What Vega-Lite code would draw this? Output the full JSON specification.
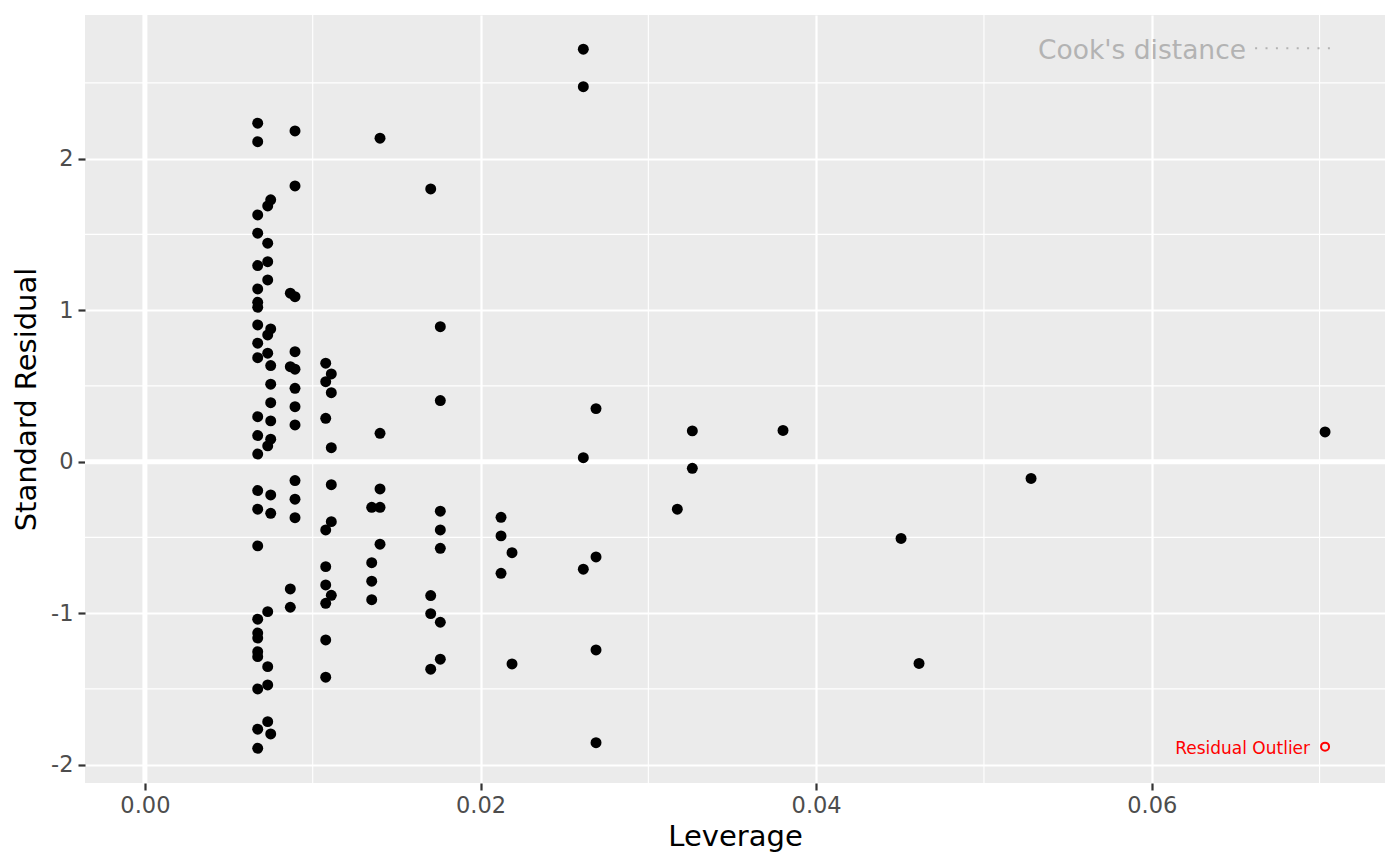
{
  "$schema": "https://vega.github.io/schema/vega-lite/v6.json",
  "autosize": {"type": "none"},
  "width": 1300,
  "height": 768,
  "padding": {"left": 85, "top": 15, "right": 15, "bottom": 83},
  "background": "white",
  "config": {
    "font": "DejaVu Sans",
    "view": {"fill": "#EBEBEB", "stroke": null},
    "axis": {
      "domain": false,
      "grid": true,
      "gridColor": "white",
      "gridWidth": 2.2,
      "tickColor": "#333333",
      "tickSize": 7,
      "tickWidth": 2.2,
      "labelFont": "DejaVu Sans",
      "labelFontSize": 22.5,
      "labelColor": "#4D4D4D",
      "titleFont": "DejaVu Sans",
      "titleFontSize": 29,
      "titleFontWeight": "normal",
      "titleColor": "black"
    }
  },
  "datasets": {
    "pts": [
      {"lev": 0.006722, "res": 2.234}, {"lev": 0.006722, "res": 2.112}, {"lev": 0.006722, "res": 1.628}, {"lev": 0.006722, "res": 1.508}, {"lev": 0.006722, "res": 1.294},
      {"lev": 0.006722, "res": 1.140}, {"lev": 0.006722, "res": 1.052}, {"lev": 0.006722, "res": 1.019}, {"lev": 0.006722, "res": 0.902}, {"lev": 0.006722, "res": 0.782},
      {"lev": 0.006722, "res": 0.686}, {"lev": 0.006722, "res": 0.297}, {"lev": 0.006722, "res": 0.172}, {"lev": 0.006722, "res": 0.050}, {"lev": 0.006722, "res": -0.191},
      {"lev": 0.006722, "res": -0.314}, {"lev": 0.006722, "res": -0.556}, {"lev": 0.006722, "res": -1.040}, {"lev": 0.006722, "res": -1.131}, {"lev": 0.006722, "res": -1.164},
      {"lev": 0.006722, "res": -1.254}, {"lev": 0.006722, "res": -1.287}, {"lev": 0.006722, "res": -1.500}, {"lev": 0.006722, "res": -1.766}, {"lev": 0.006722, "res": -1.892},
      {"lev": 0.007318, "res": 1.688}, {"lev": 0.007318, "res": 1.442}, {"lev": 0.007318, "res": 1.320}, {"lev": 0.007318, "res": 1.199}, {"lev": 0.007318, "res": 0.836},
      {"lev": 0.007318, "res": 0.716}, {"lev": 0.007318, "res": 0.104}, {"lev": 0.007318, "res": -0.990}, {"lev": 0.007318, "res": -1.353}, {"lev": 0.007318, "res": -1.474},
      {"lev": 0.007318, "res": -1.716},
      {"lev": 0.007497, "res": 1.728}, {"lev": 0.007497, "res": 0.876}, {"lev": 0.007497, "res": 0.634}, {"lev": 0.007497, "res": 0.511}, {"lev": 0.007497, "res": 0.389},
      {"lev": 0.007497, "res": 0.269}, {"lev": 0.007497, "res": 0.148}, {"lev": 0.007497, "res": -0.220}, {"lev": 0.007497, "res": -0.341}, {"lev": 0.007497, "res": -1.797},
      {"lev": 0.008665, "res": 1.112}, {"lev": 0.008665, "res": 0.627}, {"lev": 0.008665, "res": -0.840}, {"lev": 0.008665, "res": -0.961},
      {"lev": 0.008945, "res": 2.183}, {"lev": 0.008945, "res": 1.820}, {"lev": 0.008945, "res": 1.089}, {"lev": 0.008945, "res": 0.726}, {"lev": 0.008945, "res": 0.610},
      {"lev": 0.008945, "res": 0.484}, {"lev": 0.008945, "res": 0.363}, {"lev": 0.008945, "res": 0.242}, {"lev": 0.008945, "res": -0.125}, {"lev": 0.008945, "res": -0.248},
      {"lev": 0.008945, "res": -0.370},
      {"lev": 0.010775, "res": 0.650}, {"lev": 0.010775, "res": 0.528}, {"lev": 0.010775, "res": 0.286}, {"lev": 0.010775, "res": -0.451}, {"lev": 0.010775, "res": -0.693},
      {"lev": 0.010775, "res": -0.814}, {"lev": 0.010775, "res": -0.935}, {"lev": 0.010775, "res": -1.177}, {"lev": 0.010775, "res": -1.423},
      {"lev": 0.011108, "res": 0.579}, {"lev": 0.011108, "res": 0.455}, {"lev": 0.011108, "res": 0.092}, {"lev": 0.011108, "res": -0.152}, {"lev": 0.011108, "res": -0.396},
      {"lev": 0.011108, "res": -0.882},
      {"lev": 0.013516, "res": -0.301}, {"lev": 0.013516, "res": -0.667}, {"lev": 0.013516, "res": -0.789}, {"lev": 0.013516, "res": -0.911},
      {"lev": 0.014011, "res": 2.135}, {"lev": 0.014011, "res": 0.187}, {"lev": 0.014011, "res": -0.180}, {"lev": 0.014011, "res": -0.301}, {"lev": 0.014011, "res": -0.545},
      {"lev": 0.017032, "res": 1.800}, {"lev": 0.017032, "res": -0.884}, {"lev": 0.017032, "res": -1.003}, {"lev": 0.017032, "res": -1.370},
      {"lev": 0.017604, "res": 0.891}, {"lev": 0.017604, "res": 0.403}, {"lev": 0.017604, "res": -0.327}, {"lev": 0.017604, "res": -0.451}, {"lev": 0.017604, "res": -0.572},
      {"lev": 0.017604, "res": -1.060}, {"lev": 0.017604, "res": -1.304},
      {"lev": 0.021222, "res": -0.367}, {"lev": 0.021222, "res": -0.490}, {"lev": 0.021222, "res": -0.737},
      {"lev": 0.021877, "res": -0.601}, {"lev": 0.021877, "res": -1.335},
      {"lev": 0.026126, "res": 2.722}, {"lev": 0.026126, "res": 2.475}, {"lev": 0.026126, "res": 0.026}, {"lev": 0.026126, "res": -0.710},
      {"lev": 0.026883, "res": 0.350}, {"lev": 0.026883, "res": -0.629}, {"lev": 0.026883, "res": -1.243}, {"lev": 0.026883, "res": -1.855},
      {"lev": 0.031728, "res": -0.314},
      {"lev": 0.032622, "res": 0.203}, {"lev": 0.032622, "res": -0.044},
      {"lev": 0.038027, "res": 0.206},
      {"lev": 0.045060, "res": -0.507},
      {"lev": 0.046132, "res": -1.332},
      {"lev": 0.052807, "res": -0.111},
      {"lev": 0.070328, "res": 0.196}
    ],
    "minorx": [{"lev": 0.01}, {"lev": 0.03}, {"lev": 0.05}, {"lev": 0.07}],
    "minory": [{"res": -1.5}, {"res": -0.5}, {"res": 0.5}, {"res": 1.5}, {"res": 2.5}],
    "zerox": [{"lev": 0}],
    "zeroy": [{"res": 0}],
    "outlier": [{"lev": 0.070328, "res": -1.881, "label": "Residual Outlier"}],
    "cook": [{"lev": 0.06562, "res": 2.656, "label": "Cook's distance"}],
    "cookline": [{"lev": 0.06616, "lev2": 0.07078, "res": 2.728}]
  },
  "layer": [
    {
      "data": {"name": "minorx"},
      "mark": {"type": "rule", "color": "white", "strokeWidth": 1.1},
      "encoding": {
        "x": {"field": "lev", "type": "quantitative", "scale": {"domain": [-0.00357, 0.0739], "nice": false, "zero": false},
              "axis": {"title": "Leverage", "values": [0, 0.02, 0.04, 0.06], "format": ".2f", "labelPadding": 4, "titlePadding": 6}}
      }
    },
    {
      "data": {"name": "minory"},
      "mark": {"type": "rule", "color": "white", "strokeWidth": 1.1},
      "encoding": {
        "y": {"field": "res", "type": "quantitative", "scale": {"domain": [-2.121, 2.948], "nice": false, "zero": false},
              "axis": {"title": "Standard Residual", "values": [-2, -1, 0, 1, 2], "labelExpr": "'' + datum.value", "labelPadding": 5, "titlePadding": 9}}
      }
    },
    {
      "data": {"name": "zerox"},
      "mark": {"type": "rule", "color": "white", "strokeWidth": 5},
      "encoding": {
        "x": {"field": "lev", "type": "quantitative", "scale": {"domain": [-0.00357, 0.0739], "nice": false, "zero": false},
              "axis": {"title": "Leverage", "values": [0, 0.02, 0.04, 0.06], "format": ".2f", "labelPadding": 4, "titlePadding": 6}}
      }
    },
    {
      "data": {"name": "zeroy"},
      "mark": {"type": "rule", "color": "white", "strokeWidth": 5},
      "encoding": {
        "y": {"field": "res", "type": "quantitative", "scale": {"domain": [-2.121, 2.948], "nice": false, "zero": false},
              "axis": {"title": "Standard Residual", "values": [-2, -1, 0, 1, 2], "labelExpr": "'' + datum.value", "labelPadding": 5, "titlePadding": 9}}
      }
    },
    {
      "data": {"name": "pts"},
      "mark": {"type": "point", "filled": true, "color": "black", "opacity": 1, "size": 120, "shape": "circle"},
      "encoding": {
        "x": {"field": "lev", "type": "quantitative", "scale": {"domain": [-0.00357, 0.0739], "nice": false, "zero": false},
              "axis": {"title": "Leverage", "values": [0, 0.02, 0.04, 0.06], "format": ".2f", "labelPadding": 4, "titlePadding": 6}},
        "y": {"field": "res", "type": "quantitative", "scale": {"domain": [-2.121, 2.948], "nice": false, "zero": false},
              "axis": {"title": "Standard Residual", "values": [-2, -1, 0, 1, 2], "labelExpr": "'' + datum.value", "labelPadding": 5, "titlePadding": 9}}
      }
    },
    {
      "data": {"name": "outlier"},
      "mark": {"type": "point", "filled": false, "color": "#FF0000", "strokeWidth": 2, "size": 64, "shape": "circle", "opacity": 1},
      "encoding": {
        "x": {"field": "lev", "type": "quantitative", "scale": {"domain": [-0.00357, 0.0739], "nice": false, "zero": false},
              "axis": {"title": "Leverage", "values": [0, 0.02, 0.04, 0.06], "format": ".2f", "labelPadding": 4, "titlePadding": 6}},
        "y": {"field": "res", "type": "quantitative", "scale": {"domain": [-2.121, 2.948], "nice": false, "zero": false},
              "axis": {"title": "Standard Residual", "values": [-2, -1, 0, 1, 2], "labelExpr": "'' + datum.value", "labelPadding": 5, "titlePadding": 9}}
      }
    },
    {
      "data": {"name": "outlier"},
      "mark": {"type": "text", "color": "#FF0000", "fontSize": 17, "align": "right", "baseline": "alphabetic", "dx": -15, "dy": 7},
      "encoding": {
        "x": {"field": "lev", "type": "quantitative", "scale": {"domain": [-0.00357, 0.0739], "nice": false, "zero": false},
              "axis": {"title": "Leverage", "values": [0, 0.02, 0.04, 0.06], "format": ".2f", "labelPadding": 4, "titlePadding": 6}},
        "y": {"field": "res", "type": "quantitative", "scale": {"domain": [-2.121, 2.948], "nice": false, "zero": false},
              "axis": {"title": "Standard Residual", "values": [-2, -1, 0, 1, 2], "labelExpr": "'' + datum.value", "labelPadding": 5, "titlePadding": 9}},
        "text": {"field": "label"}
      }
    },
    {
      "data": {"name": "cook"},
      "mark": {"type": "text", "color": "#B3B3B3", "fontSize": 26.5, "align": "right", "baseline": "alphabetic"},
      "encoding": {
        "x": {"field": "lev", "type": "quantitative", "scale": {"domain": [-0.00357, 0.0739], "nice": false, "zero": false},
              "axis": {"title": "Leverage", "values": [0, 0.02, 0.04, 0.06], "format": ".2f", "labelPadding": 4, "titlePadding": 6}},
        "y": {"field": "res", "type": "quantitative", "scale": {"domain": [-2.121, 2.948], "nice": false, "zero": false},
              "axis": {"title": "Standard Residual", "values": [-2, -1, 0, 1, 2], "labelExpr": "'' + datum.value", "labelPadding": 5, "titlePadding": 9}},
        "text": {"field": "label"}
      }
    },
    {
      "data": {"name": "cookline"},
      "mark": {"type": "rule", "color": "#B3B3B3", "strokeWidth": 2, "strokeDash": [2, 8.4], "strokeCap": "butt"},
      "encoding": {
        "x": {"field": "lev", "type": "quantitative", "scale": {"domain": [-0.00357, 0.0739], "nice": false, "zero": false},
              "axis": {"title": "Leverage", "values": [0, 0.02, 0.04, 0.06], "format": ".2f", "labelPadding": 4, "titlePadding": 6}},
        "x2": {"field": "lev2"},
        "y": {"field": "res", "type": "quantitative", "scale": {"domain": [-2.121, 2.948], "nice": false, "zero": false},
              "axis": {"title": "Standard Residual", "values": [-2, -1, 0, 1, 2], "labelExpr": "'' + datum.value", "labelPadding": 5, "titlePadding": 9}}
      }
    }
  ]
}
